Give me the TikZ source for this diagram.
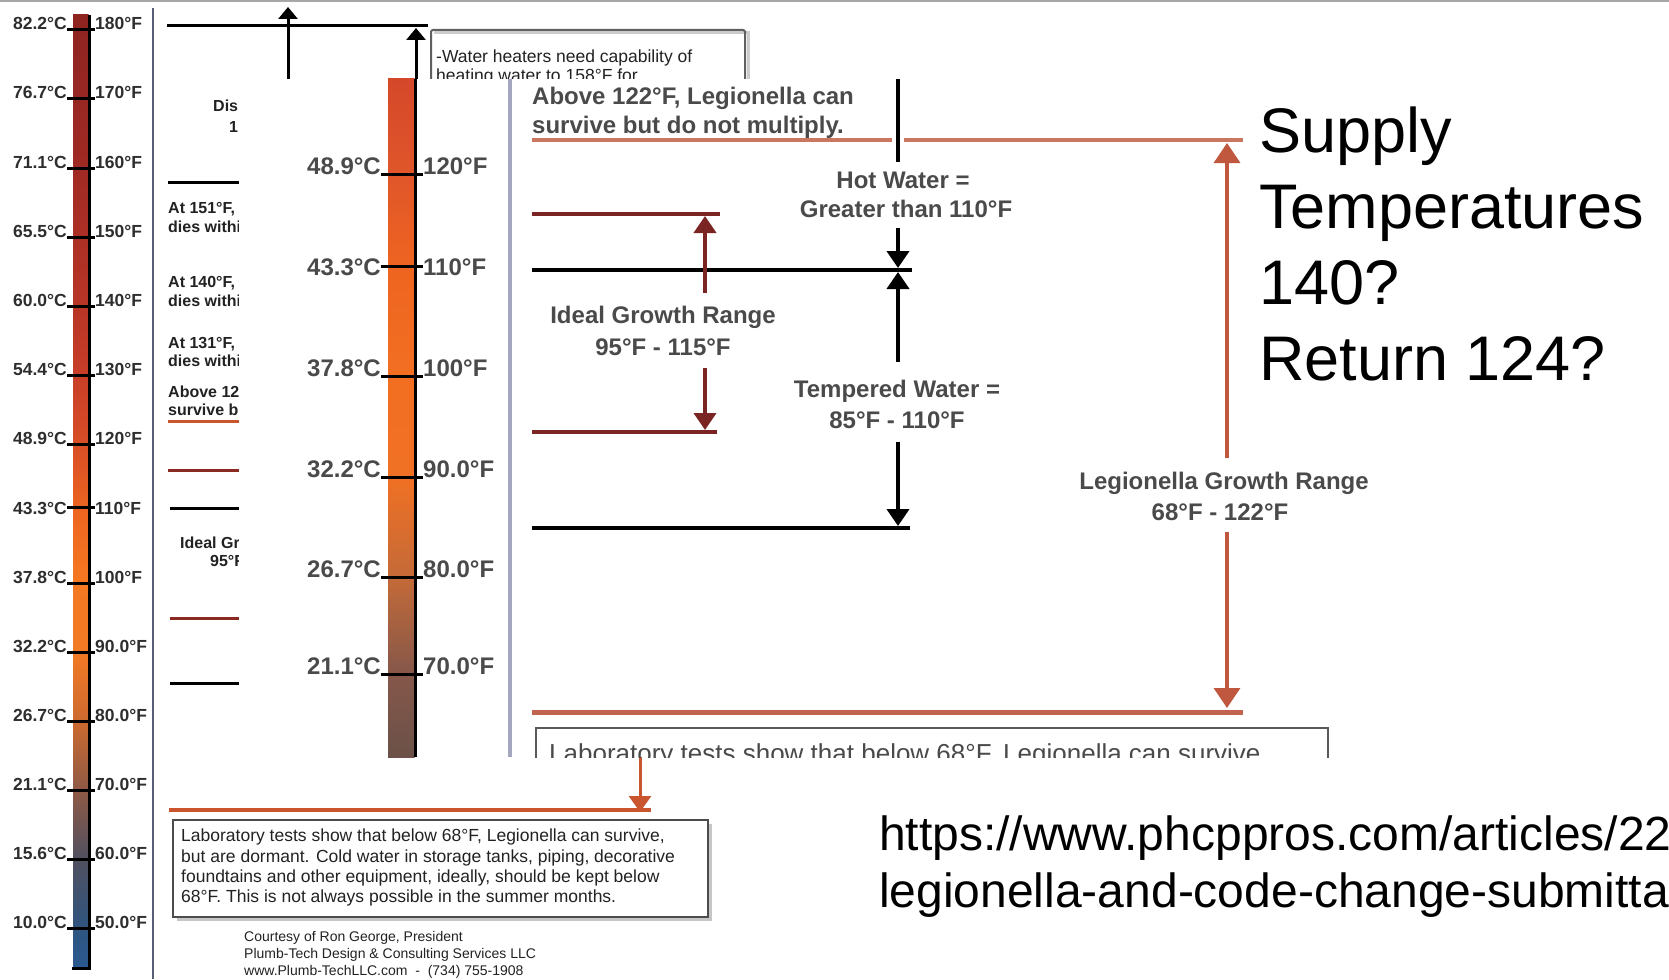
\documentclass[tikz,border=0pt]{standalone}
\usepackage{fontspec}
\setmainfont{Liberation Sans}
\usetikzlibrary{arrows.meta}
\newcommand{\myfs}[1]{\fontsize{#1pt}{#1pt}\selectfont}
\definecolor{lblc}{HTML}{2E2E2E}
\definecolor{olc}{HTML}{4A4A4A}
\definecolor{notec}{HTML}{222222}
\definecolor{maroon}{HTML}{7B2424}
\definecolor{legtop}{HTML}{C9785F}
\definecolor{legbot}{HTML}{C26350}
\definecolor{legarr}{HTML}{C0583F}
\definecolor{borange}{HTML}{C9562E}
\definecolor{bred}{HTML}{8A2A22}
\definecolor{vgray}{HTML}{5A5F78}
\definecolor{ovgray}{HTML}{A4A6C0}
% left bar colours
\definecolor{la}{HTML}{8E2420}
\definecolor{lb}{HTML}{A02A24}
\definecolor{lc}{HTML}{B83526}
\definecolor{ld}{HTML}{C83E28}
\definecolor{le}{HTML}{D84E26}
\definecolor{lf}{HTML}{EE6620}
\definecolor{lg}{HTML}{F57822}
\definecolor{lh}{HTML}{F27A24}
\definecolor{li}{HTML}{CC6A30}
\definecolor{lj}{HTML}{8F5A45}
\definecolor{lk}{HTML}{505060}
\definecolor{ll}{HTML}{2F5580}
\definecolor{lm}{HTML}{2A5A90}
% overlay bar colours
\definecolor{oa}{HTML}{D5482A}
\definecolor{ob}{HTML}{E0562A}
\definecolor{oc}{HTML}{EE6420}
\definecolor{od}{HTML}{F26F22}
\definecolor{oe}{HTML}{F07024}
\definecolor{of}{HTML}{C46A38}
\definecolor{og}{HTML}{86574A}
\definecolor{oh}{HTML}{6B5148}
\begin{document}
\begin{tikzpicture}[x=1pt,y=-1pt,
  lbl/.style={font=\myfs{17.5}\bfseries, text=lblc, inner sep=0pt},
  olbl/.style={font=\myfs{24}\bfseries, text=olc, inner sep=0pt},
  bnote/.style={font=\myfs{16}\bfseries, text=notec, inner sep=0pt, anchor=base west},
  btext/.style={font=\myfs{17.5}, text=notec, inner sep=0pt, anchor=base west},
  ctext/.style={font=\myfs{14}, text=notec, inner sep=0pt, anchor=base west},
  otext/.style={font=\myfs{24}\bfseries, text=olc, inner sep=0pt},
  big/.style={font=\myfs{63}, text=black, inner sep=0pt, anchor=base west},
  urltext/.style={font=\myfs{48}, text=black, inner sep=0pt, anchor=base west},
  tickline/.style={line width=3pt, black},
  bline/.style={line width=3pt},
  oline/.style={line width=4pt},
  barr/.style={-{Triangle[width=19pt,length=12pt]}},
  oarr/.style={-{Triangle[width=22pt,length=17pt]}},
  larr/.style={-{Triangle[width=26pt,length=20pt]}}
]
\useasboundingbox (0,0) rectangle (1669,979);
\clip (0,0) rectangle (1669,979);
\fill[white] (0,0) rectangle (1669,979);
\draw[line width=2pt, gray!70] (0,1) -- (1669,1);

% ---------------- background image: left thermometer
\foreach \ya/\yb/\ca/\cb in {15/168/la/lb,168/306/lb/lc,306/375/lc/ld,375/444/ld/le,444/514/le/lf,514/583/lf/lg,583/652/lg/lh,652/721/lh/li,721/790/li/lj,790/859/lj/lk,859/928/lk/ll,928/968/ll/lm}
  \shade[top color=\ca, bottom color=\cb] (73,\ya) rectangle (88.5,\yb);
\draw[line width=3pt] (89.5,15) -- (89.5,968);
\draw[line width=3pt] (72,968) -- (91,968);
\foreach \y/\c/\f/\n in {30/82.2/180/a,99/76.7/170/b,168/71.1/160/c,237/65.5/150/d,306/60.0/140/e,375/54.4/130/f,444/48.9/120/g,583/37.8/100/i,652/32.2/90.0/j,721/26.7/80.0/k,790/21.1/70.0/l,859/15.6/60.0/m,928/10.0/50.0/n}{
  \node[lbl, anchor=base east] (lc\n) at (67,\y) {\c°C};
  \node[lbl, anchor=base west] (lf\n) at (95,\y) {\f°F};
  \draw[tickline] (lc\n.base east) -- (lf\n.base west);
}
\node[lbl, anchor=base east] (lch) at (67,514) {43.3°C};
\node[lbl, anchor=base west] (lfh) at (95,514) {110°F};
\draw[tickline] (67,507) -- (95,507);
\draw[line width=2.5pt, vgray] (153,8) -- (153,979);

% ---------------- background image: right part
\draw[bline] (167,26) -- (428,26);
\coordinate (ba1) at (288,95);
\coordinate (bt1) at (288,7);
\coordinate (ba2) at (416,95);
\coordinate (bt2) at (416,28);
\draw[bline, barr] (ba1) -- (bt1);
\draw[bline, barr] (ba2) -- (bt2);
\draw[line width=3pt, gray!40] (434,33) -- (748,33) -- (748,120);
\draw[line width=2pt, gray!75!black, rounded corners=2pt] (431,30) rectangle (745,120);
\node[btext] (wh1) at (436,63) {-Water heaters need capability of};
\node[btext] (wh2) at (436,82) {heating water to 158°F for};
\node[bnote] (dis1) at (213,112) {Disi};
\node[bnote] (dis2) at (229,132) {1};
\draw[bline] (168,182) -- (242,182);
\node[bnote] (n1) at (168,213) {At 151°F,};
\node[bnote] (n2) at (168,232) {dies withi};
\node[bnote] (n3) at (168,287) {At 140°F,};
\node[bnote] (n4) at (168,306) {dies withi};
\node[bnote] (n5) at (168,348) {At 131°F,};
\node[bnote] (n6) at (168,366) {dies withi};
\node[bnote] (n7) at (168,397) {Above 122};
\node[bnote] (n8) at (168,415) {survive bu};
\draw[line width=3pt, borange] (168,421) -- (242,421);
\draw[line width=3pt, bred] (168,470) -- (242,470);
\draw[bline] (170,508) -- (242,508);
\node[bnote] (n9) at (180,548) {Ideal Gr};
\node[bnote] (n10) at (210,566) {95°F};
\draw[line width=3pt, bred] (170,618) -- (242,618);
\draw[bline] (170,683) -- (242,683);
\draw[line width=3.5pt, borange] (169,810) -- (651,810);
\coordinate (boa) at (640,750);
\coordinate (bot) at (640,812);
\draw[line width=3pt, borange, -{Triangle[width=22pt,length=16pt]}] (boa) -- (bot);
\fill[gray!45] (177,824) rectangle (712,921);
\draw[line width=2pt, fill=white, draw=gray!60!black] (173,820) rectangle (708,917);
\node[btext] (bx1) at (181,841) {Laboratory tests show that below 68°F, Legionella can survive,};
\node[btext] (bx2) at (181,862) {but are dormant. Cold water in storage tanks, piping, decorative};
\node[btext] (bx3) at (181,882) {foundtains and other equipment, ideally, should be kept below};
\node[btext] (bx4) at (181,902) {68°F. This is not always possible in the summer months.};
\node[ctext] (ct1) at (244,941) {Courtesy of Ron George, President};
\node[ctext] (ct2) at (244,958) {Plumb-Tech Design \& Consulting Services LLC};
\node[ctext] (ct3) at (244,975) {www.Plumb-TechLLC.com \ - \ (734) 755-1908};

% ---------------- overlay image
\begin{scope}
\clip (239,79) rectangle (1400,757);
\fill[white] (239,79) rectangle (1400,757);
\foreach \ya/\yb/\ca/\cb in {79/174/oa/ob,174/266/ob/oc,266/376/oc/od,376/477/od/oe,477/577/oe/of,577/674/of/og,674/757/og/oh}
  \shade[top color=\ca, bottom color=\cb] (388,\ya) rectangle (414.5,\yb);
\draw[line width=3pt] (415.5,79) -- (415.5,757);
\foreach \y/\c/\f/\n in {174/48.9/120/a,376/37.8/100/c,477/32.2/90.0/d,577/26.7/80.0/e,674/21.1/70.0/f}{
  \node[olbl, anchor=base east] (oc\n) at (381,\y) {\c°C};
  \node[olbl, anchor=base west] (of\n) at (423,\y) {\f°F};
  \draw[tickline] (oc\n.base east) -- (of\n.base west);
}
\node[olbl, anchor=base east] (ocb) at (381,275) {43.3°C};
\node[olbl, anchor=base west] (ofb) at (423,275) {110°F};
\draw[tickline] (381,266) -- (423,266);
\draw[line width=4pt, ovgray] (510,79) -- (510,757);

\node[otext, anchor=base west] (ab1) at (532,105) {Above 122°F, Legionella can};
\node[otext, anchor=base west] (ab2) at (532,133) {survive but do not multiply.};
\draw[oline, legtop] (532,140) -- (1243,140);
\draw[white, line width=12pt] (898,137) -- (898,143);
\draw[oline] (898,79) -- (898,162);
\node[otext] (hw1) at (903,180) {Hot Water =};
\node[otext] (hw2) at (906,209) {Greater than 110°F};
\draw[oline] (532,270) -- (912,270);
\coordinate (hwa) at (898,228);
\coordinate (hwt) at (898,268);
\draw[oline, oarr] (hwa) -- (hwt);
\coordinate (twa) at (898,362);
\coordinate (twt) at (898,272);
\draw[oline, oarr] (twa) -- (twt);
\node[otext] (tw1) at (897,391) {Tempered Water =};
\node[otext] (tw2) at (897,420) {85°F - 110°F};
\coordinate (tba) at (898,442);
\coordinate (tbt) at (898,526);
\draw[oline, oarr] (tba) -- (tbt);
\draw[oline] (532,528) -- (910,528);

\draw[oline, maroon] (532,214) -- (720,214);
\coordinate (iga) at (705,293);
\coordinate (igt) at (705,216);
\draw[oline, maroon, oarr] (iga) -- (igt);
\node[otext] (ig1) at (663,317) {Ideal Growth Range};
\node[otext] (ig2) at (663,347) {95°F - 115°F};
\coordinate (iba) at (705,368);
\coordinate (ibt) at (705,430);
\draw[oline, maroon, oarr] (iba) -- (ibt);
\draw[oline, maroon] (532,432) -- (717,432);

\coordinate (lga) at (1227,458);
\coordinate (lgt) at (1227,143);
\draw[line width=3.5pt, legarr, larr] (lga) -- (lgt);
\node[otext] (lg1) at (1224,483) {Legionella Growth Range};
\node[otext] (lg2) at (1220,512) {68°F - 122°F};
\coordinate (lba) at (1227,532);
\coordinate (lbt) at (1227,708);
\draw[line width=3.5pt, legarr, larr] (lba) -- (lbt);
\draw[line width=5pt, legbot] (532,712) -- (1243,712);

\draw[line width=2.5pt, gray!70!black] (536,728) rectangle (1328,800);
\node[font=\myfs{26}, text=olc, inner sep=0pt, anchor=base west] (lab) at (549,762) {Laboratory tests show that below 68°F, Legionella can survive};
\end{scope}

% ---------------- slide text
\node[big] (s1) at (1259,152) {Supply};
\node[big] (s2) at (1259,228) {Temperatures};
\node[big] (s3) at (1259,304) {140?};
\node[big] (s4) at (1259,380) {Return 124?};
\node[urltext] (u1) at (879,850) {https://www.phcppros.com/articles/22};
\node[urltext] (u2) at (879,907) {legionella-and-code-change-submittal};
\end{tikzpicture}
\end{document}
